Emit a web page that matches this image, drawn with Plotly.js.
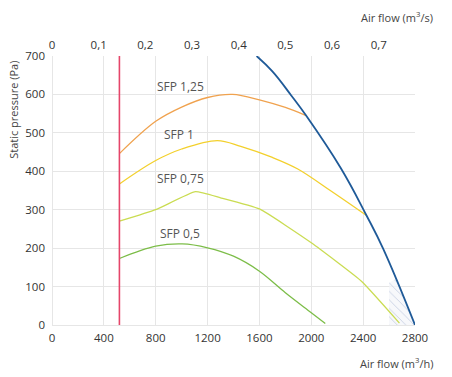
<!DOCTYPE html>
<html>
<head>
<meta charset="utf-8">
<script src="https://cdn.plot.ly/plotly-3.0.1.min.js"></script>
<style>html,body{margin:0;padding:0;background:#fff;}#chart{width:452px;height:377px;}</style>
</head>
<body>
<div id="chart"></div>
<script>
// Airflow (m3/h) and static pressure (Pa)
const minFlow = [520, 520];
const minFlowP = [0, 700];

const sfp125Flow = [520, 800, 1000, 1200, 1392, 1600, 1800, 1960];
const sfp125P    = [446, 530, 567, 592, 600, 586, 566, 545];

const sfp1Flow = [520, 800, 1000, 1275, 1456, 1700, 1896, 2155, 2426];
const sfp1P    = [367, 428, 458, 480, 465, 436, 406, 348, 285];

const sfp075Flow = [520, 800, 1107, 1300, 1600, 2000, 2387, 2680];
const sfp075P    = [270, 300, 347, 331, 302, 214, 114, 5];

const sfp05Flow = [520, 800, 1004, 1200, 1400, 1600, 1800, 2000, 2108];
const sfp05P    = [173, 205, 211, 201, 179, 140, 84, 32, 4];

const fanFlow = [1578, 1700, 1844, 1960, 2226, 2426, 2555, 2800];
const fanP    = [700, 660, 598, 545, 409, 285, 198, 0];

const hatchFlow = [2600, 2600, 2650, 2800, 2600];
const hatchP    = [0, 110, 120, 0, 0];

const sfpLabels = ['SFP 1,25', 'SFP 1', 'SFP 0,75', 'SFP 0,5'];
const labelFlow = [988, 983, 988, 987];
const labelP    = [621, 495, 381, 238];

const xTicks = [0, 400, 800, 1200, 1600, 2000, 2400, 2800];
const yTicks = [0, 100, 200, 300, 400, 500, 600, 700];
const topTicks = [0, 0.1, 0.2, 0.3, 0.4, 0.5, 0.6, 0.7];
const topTickText = ['0', '0,1', '0,2', '0,3', '0,4', '0,5', '0,6', '0,7'];

const FONT = 'Open Sans, Noto Sans, sans-serif';
const gridCol = '#e6e6e6';

function line(x, y, color, width, shape, sm) {
  return {x: x, y: y, type: 'scatter', mode: 'lines', hoverinfo: 'skip',
          line: {color: color, width: width, shape: shape || 'spline', smoothing: sm || 1.0}};
}

const traces = [
  {x: hatchFlow, y: hatchP, type: 'scatter', mode: 'lines', fill: 'toself',
   line: {width: 0, color: 'rgba(0,0,0,0)'},
   fillcolor: 'rgba(235,238,245,0.6)',
   fillpattern: {shape: '\\', fgcolor: 'rgba(195,205,225,0.9)', bgcolor: 'rgba(244,246,250,0.7)', size: 6, solidity: 0.15},
   hoverinfo: 'skip'},
  line(sfp125Flow, sfp125P, '#f0a24e', 1.3),
  line(sfp1Flow, sfp1P, '#f3d02c', 1.3),
  line(sfp075Flow, sfp075P, '#cadc52', 1.3, 'spline', 0.4),
  line(sfp05Flow, sfp05P, '#7cbd48', 1.3),
  line(fanFlow, fanP, '#1f5a98', 1.8, 'spline', 1.2),
  line(minFlow, minFlowP, '#e5466a', 1.6, 'linear'),
  {x: [0, 0.7778], y: [null, null], xaxis: 'x2', type: 'scatter', mode: 'lines', hoverinfo: 'skip', showlegend: false}
];

const annotations = sfpLabels.map((t, i) => ({
  x: labelFlow[i], y: labelP[i], xref: 'x', yref: 'y', text: t, showarrow: false,
  font: {family: FONT, size: 12, color: '#555'}
}));
annotations.push(
  {x: (435 - 52) / 363, xref: 'paper', xanchor: 'right', y: 1.145, yref: 'paper', yanchor: 'middle',
   text: 'Air flow (m<sup>3</sup>/s)', showarrow: false, font: {family: FONT, size: 11, color: '#444'}},
  {x: (435 - 52) / 363, xref: 'paper', xanchor: 'right', y: -0.143, yref: 'paper', yanchor: 'middle',
   text: 'Air flow (m<sup>3</sup>/h)', showarrow: false, font: {family: FONT, size: 11, color: '#444'}},
  {x: (14 - 52) / 363, xref: 'paper', xanchor: 'center', y: 0.80, yref: 'paper', yanchor: 'middle',
   text: 'Static pressure (Pa)', textangle: -90, showarrow: false, font: {family: FONT, size: 11, color: '#444'}}
);

const layout = {
  width: 452, height: 377,
  margin: {l: 52, r: 37, t: 56, b: 52},
  paper_bgcolor: '#fff', plot_bgcolor: '#fff',
  showlegend: false,
  font: {family: FONT, size: 11.5, color: '#333'},
  xaxis: {range: [0, 2800], tickvals: xTicks, ticktext: xTicks.map(String),
          showgrid: true, gridcolor: gridCol, gridwidth: 1, zeroline: true, zerolinecolor: gridCol,
          showline: false, ticks: '', ticklabelstandoff: 4, fixedrange: true},
  xaxis2: {range: [0, 2800 / 3600], overlaying: 'x', side: 'top', tickvals: topTicks, ticktext: topTickText,
           showgrid: false, zeroline: false, showline: false, ticks: '', ticklabelstandoff: 4, fixedrange: true},
  yaxis: {range: [0, 700], tickvals: yTicks, ticktext: yTicks.map(String),
          showgrid: true, gridcolor: gridCol, gridwidth: 1, zeroline: true, zerolinecolor: gridCol,
          showline: false, ticks: '', ticklabelstandoff: 6, fixedrange: true},
  annotations: annotations
};

Plotly.newPlot('chart', traces, layout, {staticPlot: true, displayModeBar: false});
</script>
</body>
</html>
